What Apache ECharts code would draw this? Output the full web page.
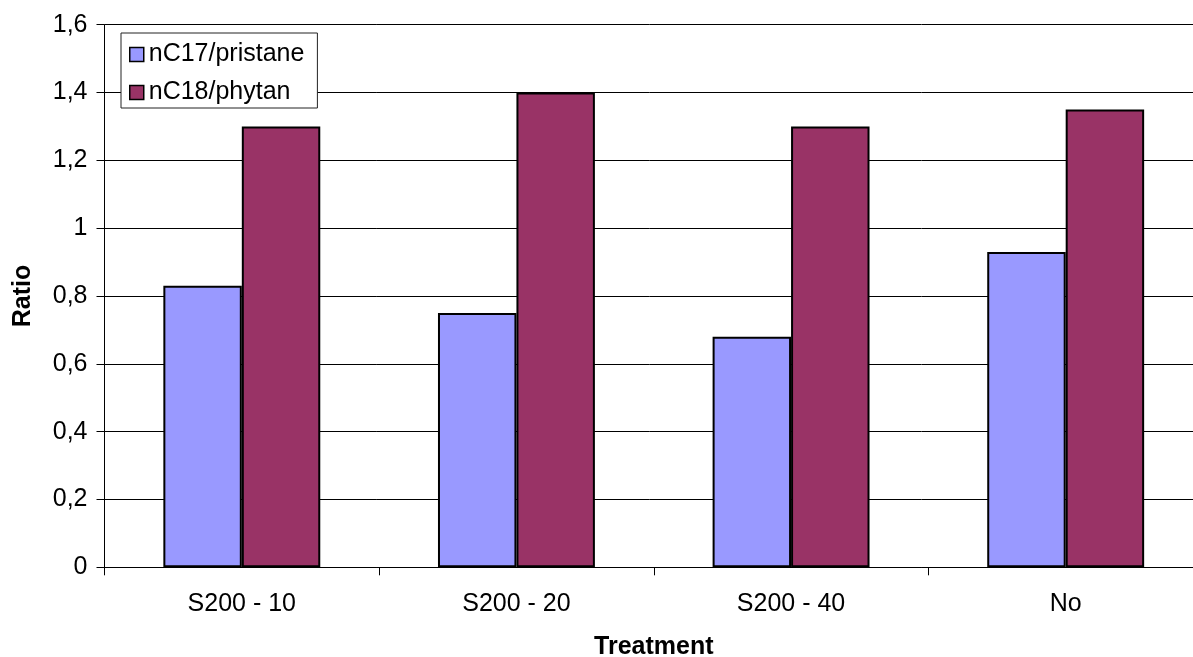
<!DOCTYPE html>
<html>
<head>
<meta charset="utf-8">
<script src="https://cdn.jsdelivr.net/npm/echarts@6/dist/echarts.min.js"></script>
<style>
  html, body { margin: 0; padding: 0; background: #fff; }
  #chart { width: 1193px; height: 657px; }
</style>
</head>
<body>
<div id="chart"></div>
<script>
// Treatment groups along the x axis
const categories = ['S200 - 10', 'S200 - 20', 'S200 - 40', 'No'];
// Ratios per treatment
const nC17Pristane = [0.83, 0.75, 0.68, 0.93];
const nC18Phytan = [1.30, 1.40, 1.30, 1.35];
const seriesNames = ['nC17/pristane', 'nC18/phytan'];
// Value axis range
const yMin = 0, yMax = 1.6, yStep = 0.2;

const FONT = "'Liberation Sans', Arial, sans-serif";
const chart = echarts.init(document.getElementById('chart'), null, { renderer: 'canvas' });

chart.setOption({
  backgroundColor: '#ffffff',
  animation: false,
  textStyle: { fontFamily: FONT, color: '#000' },
  grid: {
    left: 104.5, top: 24.7, width: 1098.5, bottom: 89.7,
    containLabel: false, outerBoundsMode: 'none'
  },
  legend: {
    left: 121, top: 33,
    orient: 'vertical',
    icon: 'rect',
    itemWidth: 14, itemHeight: 14, itemGap: 13,
    padding: [9, 13, 3, 8],
    backgroundColor: '#fff',
    borderColor: '#222', borderWidth: 1,
    textStyle: { fontFamily: FONT, fontSize: 25, color: '#000' },
    itemStyle: { borderColor: '#000', borderWidth: 1.5 },
    data: seriesNames
  },
  xAxis: {
    type: 'category',
    data: categories,
    name: 'Treatment',
    nameLocation: 'middle',
    nameGap: 67,
    nameTextStyle: { fontFamily: FONT, fontSize: 25, fontWeight: 'bold', color: '#000' },
    axisLine: { lineStyle: { color: '#000', width: 1 } },
    axisTick: { show: true, length: 8, lineStyle: { color: '#000' } },
    axisLabel: { fontFamily: FONT, fontSize: 25, color: '#000', margin: 24 },
    splitLine: { show: false }
  },
  yAxis: {
    type: 'value',
    min: yMin, max: yMax, interval: yStep,
    name: 'Ratio',
    nameLocation: 'middle',
    nameRotate: 90,
    nameGap: 69,
    nameTextStyle: { fontFamily: FONT, fontSize: 25, fontWeight: 'bold', color: '#000' },
    axisLine: { show: true, lineStyle: { color: '#000', width: 1 } },
    axisTick: { show: true, length: 8, lineStyle: { color: '#000' } },
    axisLabel: {
      fontFamily: FONT, fontSize: 25, color: '#000', margin: 17,
      formatter: v => String(Math.round(v * 10) / 10).replace('.', ',')
    },
    splitLine: { show: true, lineStyle: { color: '#000', width: 1 } }
  },
  series: [
    {
      name: seriesNames[0], type: 'bar', data: nC17Pristane,
      barGap: '0%', barCategoryGap: '42.86%',
      itemStyle: { color: '#9999FF', borderColor: '#000', borderWidth: 2 }
    },
    {
      name: seriesNames[1], type: 'bar', data: nC18Phytan,
      barGap: '0%', barCategoryGap: '42.86%',
      itemStyle: { color: '#993366', borderColor: '#000', borderWidth: 2 }
    }
  ]
});
</script>
</body>
</html>
